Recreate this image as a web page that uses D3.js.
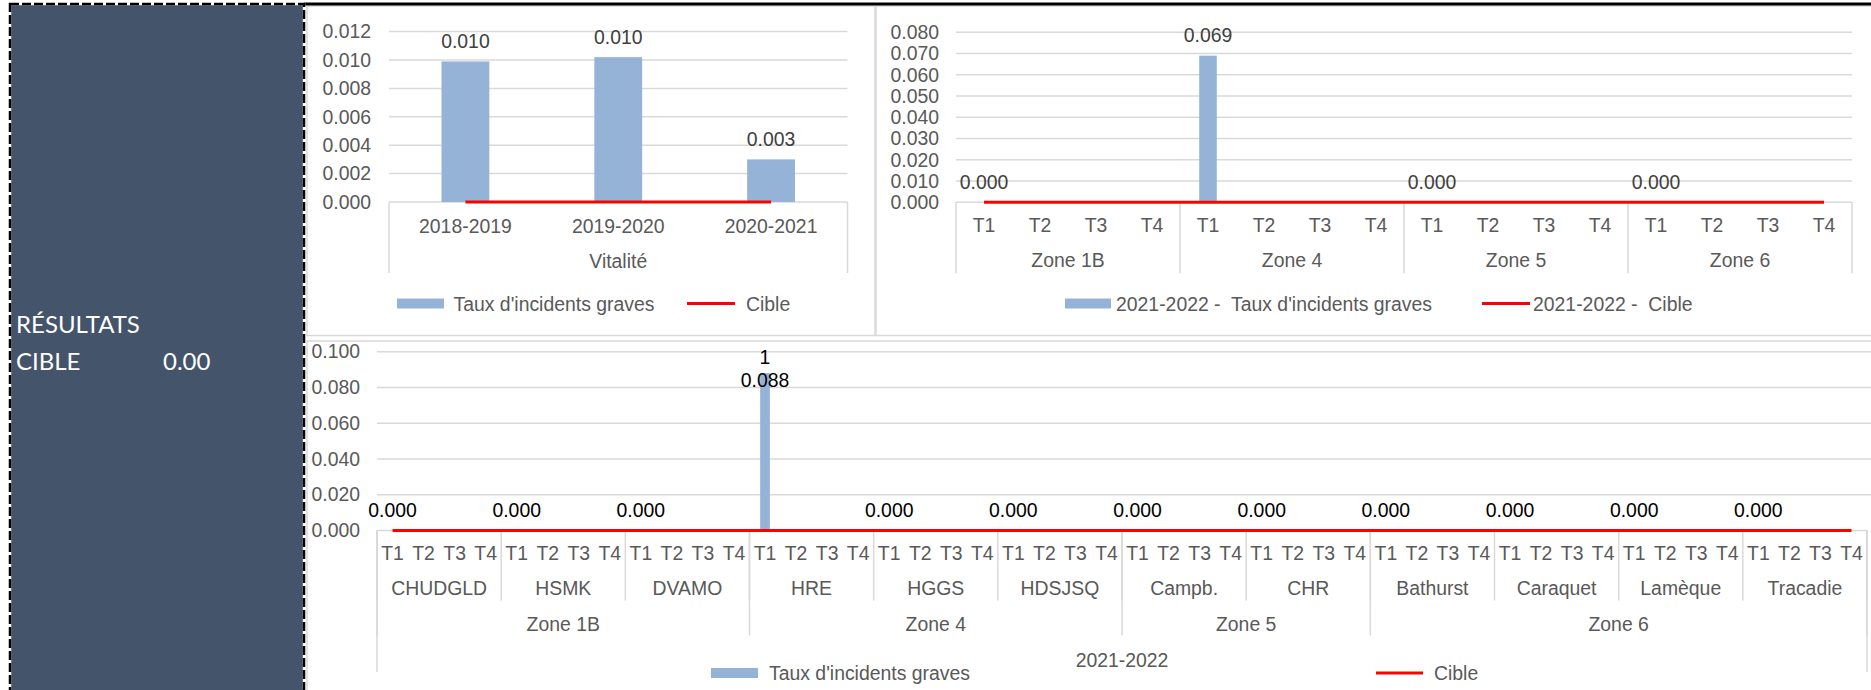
<!DOCTYPE html>
<html><head><meta charset="utf-8">
<script src="https://cdn.jsdelivr.net/npm/d3@7"></script>
<style>
html,body{margin:0;padding:0;background:#fff;}
svg{display:block;}
text{white-space:pre;}
</style></head>
<body>
<svg id="chart" width="1871" height="690"></svg>
<script>
// ---------- DATA ----------
const vitaliteYears = ["2018-2019", "2019-2020", "2020-2021"];
const vitaliteGroup = "Vitalité";
const vitaliteTaux = [0.0099, 0.0102, 0.0030];
const vitaliteCible = [0, 0, 0];
const vitaliteTicks = [0, 0.002, 0.004, 0.006, 0.008, 0.010, 0.012];

const quarters = ["T1", "T2", "T3", "T4"];
const zones = ["Zone 1B", "Zone 4", "Zone 5", "Zone 6"];
const zoneTaux = [0, null, null, null, 0.069, null, null, null, 0, null, null, null, 0, null, null, null];
const zoneCible = [0, 0, 0, 0, 0, 0, 0, 0, 0, 0, 0, 0, 0, 0, 0, 0];
const zoneTicks = [0, 0.01, 0.02, 0.03, 0.04, 0.05, 0.06, 0.07, 0.08];

const facilities = ["CHUDGLD", "HSMK", "DVAMO", "HRE", "HGGS", "HDSJSQ", "Campb.", "CHR", "Bathurst", "Caraquet", "Lamèque", "Tracadie"];
const facilityZones = ["Zone 1B", "Zone 1B", "Zone 1B", "Zone 4", "Zone 4", "Zone 4", "Zone 5", "Zone 5", "Zone 6", "Zone 6", "Zone 6", "Zone 6"];
const facilityTaux = [
  0, null, null, null,   0, null, null, null,   0, null, null, null,
  0.088, null, null, null,   0, null, null, null,   0, null, null, null,
  0, null, null, null,   0, null, null, null,
  0, null, null, null,   0, null, null, null,   0, null, null, null,   0, null, null, null
];
const facilityCible = new Array(48).fill(0);
const facilityExtraLabels = ["", "", "", "", "", "", "", "", "", "", "", "", "1"];
const facilityTicks = [0, 0.02, 0.04, 0.06, 0.08, 0.10];
const yearTitle = "2021-2022";

const legendBar1 = "Taux d'incidents graves", legendLine1 = "Cible";
const legendBar2 = "2021-2022 -  Taux d'incidents graves", legendLine2 = "2021-2022 -  Cible";
const panelLines = [["RÉSULTATS", ""], ["CIBLE", "0.00"]];

// ---------- STYLE ----------
const FONT = "'Liberation Sans', Arial, sans-serif";
const FS = 19.4;
const BAR = "#95B3D7", RED = "#FF0000", GRID = "#D9D9D9", TXT = "#595959";
const fmt = d3.format(".3f");

const svg = d3.select("#chart");
svg.append("rect").attr("width", 1871).attr("height", 690).attr("fill", "#fff");

// chart area borders
const borders = [[307, 6, 568, 329.5], [876, 6, 1000, 329.5], [307, 341, 1570, 400]];
svg.selectAll("rect.border").data(borders).enter().append("rect")
  .attr("x", d => d[0]).attr("y", d => d[1]).attr("width", d => d[2]).attr("height", d => d[3])
  .attr("fill", "none").attr("stroke", GRID).attr("stroke-width", 1.5);

// top black line
svg.append("line").attr("x1", 304).attr("x2", 1871).attr("y1", 4).attr("y2", 4)
  .attr("stroke", "#000").attr("stroke-width", 3);

// left dark panel
svg.append("rect").attr("x", 10).attr("y", 4).attr("width", 294).attr("height", 700)
  .attr("fill", "#44546A").attr("stroke", "#fff").attr("stroke-width", 2.5);
svg.append("rect").attr("x", 10).attr("y", 4).attr("width", 294).attr("height", 700)
  .attr("fill", "none").attr("stroke", "#000").attr("stroke-width", 2.5).attr("stroke-dasharray", "9,3");
const pt = svg.append("g").attr("font-family", "Lato, 'Open Sans', sans-serif").attr("font-size", 24).attr("fill", "#fff");
pt.append("text").attr("x", 16).attr("y", 333).text(panelLines[0][0]);
pt.append("text").attr("x", 16).attr("y", 370).text(panelLines[1][0]);
pt.append("text").attr("x", 163).attr("y", 370).text(panelLines[1][1]);

// ---------- generic chart ----------
function drawChart(cfg) {
  const g = svg.append("g").attr("font-family", FONT).attr("font-size", FS);
  const n = cfg.values.length;
  const x = d3.scaleBand().domain(d3.range(n)).range([cfg.x0, cfg.x1])
    .paddingInner(0.687).paddingOuter(0.687 / 2);
  const y = d3.scaleLinear().domain([0, cfg.ymax]).range([cfg.yBase, cfg.yTop]);
  const cx = i => x(i) + x.bandwidth() / 2;
  const step = x.step();

  // gridlines
  g.selectAll("line.grid").data(cfg.ticks.slice(1)).enter().append("line")
    .attr("x1", cfg.x0).attr("x2", cfg.gridEnd || cfg.x1)
    .attr("y1", d => y(d)).attr("y2", d => y(d))
    .attr("stroke", GRID).attr("stroke-width", 1.5);

  // y axis labels
  const ya = g.append("g").attr("transform", `translate(${cfg.x0 - cfg.labelGap},0)`)
    .call(d3.axisLeft(y).tickValues(cfg.ticks).tickFormat(fmt).tickSize(0).tickPadding(0));
  ya.select(".domain").remove();
  ya.selectAll("text").attr("font-family", FONT).attr("font-size", FS).attr("fill", TXT);

  // category axis line
  g.append("line").attr("x1", cfg.x0).attr("x2", cfg.x1).attr("y1", y(0)).attr("y2", y(0))
    .attr("stroke", GRID).attr("stroke-width", 1.5);

  // bars
  const data = cfg.values.map((v, i) => ({ v, i })).filter(d => d.v !== null);
  g.selectAll("rect.bar").data(data).enter().append("rect")
    .attr("x", d => x(d.i)).attr("width", x.bandwidth())
    .attr("y", d => y(d.v)).attr("height", d => y(0) - y(d.v)).attr("fill", BAR);

  // multi-level category labels and separators
  cfg.levels.forEach(lv => {
    g.selectAll(null).data(lv.groups).enter().append("text")
      .attr("x", d => (cfg.x0 + d.start * step + cfg.x0 + d.end * step) / 2)
      .attr("y", y(0) + lv.dy).attr("text-anchor", "middle").attr("dominant-baseline", "central")
      .attr("fill", TXT).text(d => d.label);
    if (lv.sepLen) {
      const seps = [];
      lv.groups.forEach(d => { seps.push(d.start); seps.push(d.end); });
      g.selectAll(null).data(Array.from(new Set(seps))).enter().append("line")
        .attr("x1", d => cfg.x0 + d * step).attr("x2", d => cfg.x0 + d * step)
        .attr("y1", y(0)).attr("y2", y(0) + lv.sepLen)
        .attr("stroke", GRID).attr("stroke-width", 1.5);
    }
  });

  // target line
  const line = d3.line().x((d, i) => cx(i)).y(d => y(d));
  g.append("path").datum(cfg.cible).attr("d", line).attr("fill", "none")
    .attr("stroke", RED).attr("stroke-width", 3);

  // data labels
  g.selectAll("text.dl").data(data).enter().append("text")
    .attr("x", d => cx(d.i)).attr("y", d => y(d.v) - 20.5)
    .attr("text-anchor", "middle").attr("dominant-baseline", "central")
    .attr("fill", cfg.labelColor).text(d => fmt(d.v));
  return { g, x, y, cx };
}

function groupsOf(labels, size) {
  return labels.map((l, k) => ({ label: l, start: k * size, end: (k + 1) * size }));
}
function runs(arr, size) {
  const out = [];
  arr.forEach((l, k) => {
    const last = out[out.length - 1];
    if (last && last.label === l) last.end = (k + 1) * size;
    else out.push({ label: l, start: k * size, end: (k + 1) * size });
  });
  return out;
}

// chart 1 : Vitalité
drawChart({
  values: vitaliteTaux, cible: vitaliteCible, ticks: vitaliteTicks, ymax: 0.012,
  x0: 389, x1: 847.5, yBase: 202, yTop: 31.6, labelGap: 18, labelColor: "#404040",
  levels: [
    { groups: groupsOf(vitaliteYears, 1), dy: 23.7 },
    { groups: [{ label: vitaliteGroup, start: 0, end: 3 }], dy: 58.7, sepLen: 71 }
  ]
});

// chart 2 : zones
const zq = [];
zones.forEach(() => quarters.forEach(q => zq.push(q)));
drawChart({
  values: zoneTaux, cible: zoneCible, ticks: zoneTicks, ymax: 0.08,
  x0: 956, x1: 1852, yBase: 202.3, yTop: 32.3, labelGap: 17, labelColor: "#404040",
  levels: [
    { groups: groupsOf(zq, 1), dy: 23 },
    { groups: groupsOf(zones, 4), dy: 58, sepLen: 71 }
  ]
});

// chart 3 : facilities
const fq = [];
facilities.forEach(() => quarters.forEach(q => fq.push(q)));
const c3 = drawChart({
  values: facilityTaux, cible: facilityCible, ticks: facilityTicks, ymax: 0.1,
  x0: 377, x1: 1867, gridEnd: 1871, yBase: 530.5, yTop: 351.7, labelGap: 17, labelColor: "#000",
  levels: [
    { groups: groupsOf(fq, 1), dy: 22.5 },
    { groups: groupsOf(facilities, 4), dy: 57.5, sepLen: 70 },
    { groups: runs(facilityZones, 4), dy: 93.5, sepLen: 105 },
    { groups: [{ label: yearTitle, start: 0, end: 48 }], dy: 129.5, sepLen: 141.5 }
  ]
});
// extra label line above HRE
c3.g.selectAll(null).data(facilityExtraLabels.map((t, i) => ({ t, i })).filter(d => d.t)).enter()
  .append("text").attr("x", d => c3.cx(d.i)).attr("y", d => c3.y(facilityTaux[d.i]) - 16.5)
  .attr("text-anchor", "middle").attr("dominant-baseline", "central").attr("fill", "#000")
  .attr("font-family", FONT).attr("font-size", FS).text(d => d.t);
// move the numeric label of HRE to its observed position (overlapping bar top)
c3.g.selectAll("text").filter(function () { return d3.select(this).text() === fmt(0.088); })
  .attr("y", c3.y(0.088) + 7);

// ---------- legends ----------
function legend(items) {
  const g = svg.append("g").attr("font-family", FONT).attr("font-size", FS).attr("fill", TXT);
  items.forEach(it => {
    if (it.type === "bar") {
      g.append("rect").attr("x", it.sx).attr("y", it.y - 5).attr("width", it.sw).attr("height", 10).attr("fill", BAR);
    } else {
      g.append("line").attr("x1", it.sx).attr("x2", it.sx + it.sw).attr("y1", it.y).attr("y2", it.y)
        .attr("stroke", RED).attr("stroke-width", 3);
    }
    g.append("text").attr("x", it.tx).attr("y", it.y).attr("dominant-baseline", "central").text(it.text);
  });
}
legend([
  { type: "bar", sx: 397, sw: 47, y: 303.5, tx: 453.5, text: legendBar1 },
  { type: "line", sx: 687, sw: 48, y: 303.5, tx: 746, text: legendLine1 }
]);
legend([
  { type: "bar", sx: 1065, sw: 46, y: 303.5, tx: 1116, text: legendBar2 },
  { type: "line", sx: 1482, sw: 48, y: 303.5, tx: 1533, text: legendLine2 }
]);
legend([
  { type: "bar", sx: 711, sw: 47, y: 673, tx: 769, text: legendBar1 },
  { type: "line", sx: 1376, sw: 47, y: 673, tx: 1434, text: legendLine1 }
]);
</script>
</body></html>
